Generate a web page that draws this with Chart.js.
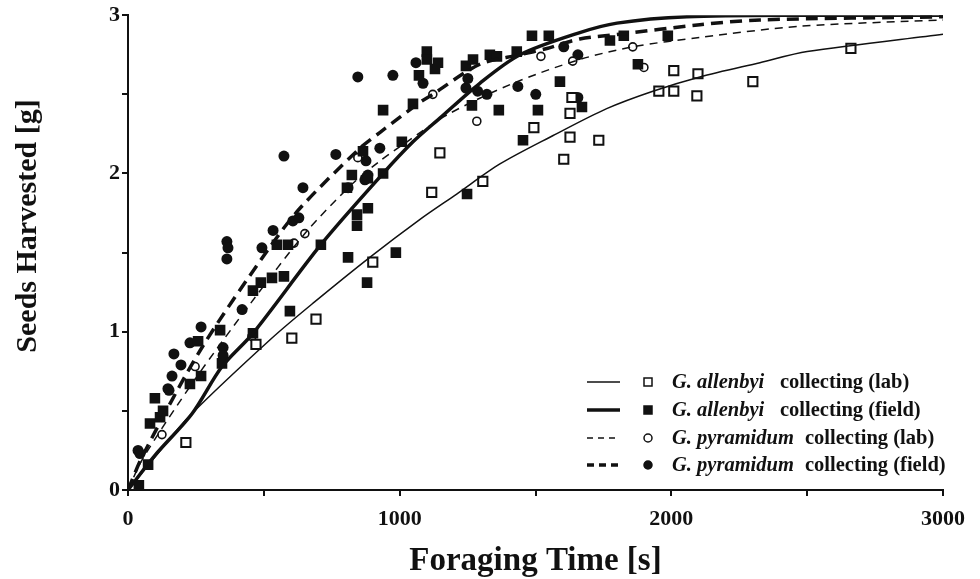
<!DOCTYPE html>
<html>
<head>
<meta charset="utf-8">
<script src="https://cdn.jsdelivr.net/npm/chart.js@4"></script>
<style>
  html, body { margin: 0; padding: 0; background: #fff; }
  #wrap { width: 980px; height: 579px; position: relative; }
</style>
</head>
<body>
<div id="wrap"><canvas id="c" width="980" height="579"></canvas></div>
<script>
/* Seeds harvested vs foraging time, two gerbil species, lab vs field.
   Points; fitted curves as polylines. */

const X_TICKS = [0, 1000, 2000, 3000];
const Y_TICKS = [0, 1, 2, 3];

// scatter: G. allenbyi (lab) - open squares
const allenbyiLabPts = [
  [213, 0.30], [471, 0.92], [603, 0.96], [692, 1.08], [901, 1.44], [1118, 1.88], [1148, 2.13],
  [1306, 1.95], [1494, 2.29], [1604, 2.09], [1627, 2.23], [1627, 2.38], [1634, 2.48], [1733, 2.21],
  [1954, 2.52], [2009, 2.52], [2009, 2.65], [2094, 2.49], [2098, 2.63], [2300, 2.58], [2661, 2.79]
];

// scatter: G. allenbyi (field) - filled squares
const allenbyiFieldPts = [
  [40, 0.03], [74, 0.16], [81, 0.42], [99, 0.58], [118, 0.46], [129, 0.50], [228, 0.67], [258, 0.94],
  [269, 0.72], [339, 1.01], [346, 0.80], [460, 0.99], [460, 1.26], [489, 1.31], [530, 1.34], [574, 1.35],
  [548, 1.55], [589, 1.55], [596, 1.13], [710, 1.55], [810, 1.47], [880, 1.31], [986, 1.50], [806, 1.91],
  [824, 1.99], [843, 1.67], [843, 1.74], [865, 2.14], [883, 1.78], [883, 1.97], [939, 2.00], [939, 2.40],
  [1008, 2.20], [1049, 2.44], [1071, 2.62], [1100, 2.77], [1100, 2.72], [1130, 2.66], [1141, 2.70], [1244, 2.68],
  [1248, 1.87], [1266, 2.43], [1270, 2.72], [1332, 2.75], [1358, 2.74], [1365, 2.40], [1431, 2.77], [1454, 2.21],
  [1487, 2.87], [1509, 2.40], [1549, 2.87], [1590, 2.58], [1671, 2.42], [1774, 2.84], [1825, 2.87], [1877, 2.69],
  [1987, 2.87]
];

// scatter: G. pyramidum (lab) - open circles
const pyramidumLabPts = [
  [125, 0.35], [247, 0.78], [456, 0.97], [611, 1.56], [651, 1.62], [846, 2.10], [1122, 2.50],
  [1284, 2.33], [1520, 2.74], [1637, 2.71], [1858, 2.80], [1899, 2.67]
];

// scatter: G. pyramidum (field) - filled circles
const pyramidumFieldPts = [
  [37, 0.25], [44, 0.23], [147, 0.64], [151, 0.63], [162, 0.72], [169, 0.86], [195, 0.79], [228, 0.93],
  [269, 1.03], [350, 0.90], [350, 0.85], [364, 1.57], [368, 1.53], [364, 1.46], [420, 1.14], [493, 1.53],
  [534, 1.64], [574, 2.11], [607, 1.70], [629, 1.72], [644, 1.91], [765, 2.12], [810, 1.91], [846, 2.61],
  [872, 1.96], [876, 2.08], [883, 1.99], [927, 2.16], [975, 2.62], [1060, 2.70], [1086, 2.57], [1244, 2.54],
  [1251, 2.60], [1287, 2.52], [1321, 2.50], [1435, 2.55], [1501, 2.50], [1604, 2.80], [1656, 2.75], [1656, 2.48]
];

// fitted curves
const allenbyiLabCurve = [
  [0, 0], [100, 0.21], [228, 0.47], [530, 0.96], [688, 1.19], [890, 1.47], [1075, 1.71], [1210, 1.87],
  [1369, 2.06], [1565, 2.24], [1762, 2.41], [1932, 2.52], [2105, 2.61], [2326, 2.70], [2500, 2.77], [3000, 2.88]
];
const allenbyiFieldCurve = [
  [0, 0], [100, 0.22], [235, 0.48], [346, 0.78], [460, 0.99], [710, 1.55], [939, 2.00], [1049, 2.20],
  [1148, 2.35], [1295, 2.57], [1443, 2.75], [1663, 2.89], [1800, 2.95], [2057, 2.99], [2500, 3.0], [3000, 3.0]
];
const pyramidumLabCurve = [
  [0, 0], [55, 0.2], [247, 0.70], [456, 1.19], [651, 1.62], [817, 1.92], [928, 2.08], [1027, 2.20],
  [1174, 2.37], [1418, 2.57], [1663, 2.72], [1858, 2.80], [2105, 2.86], [2473, 2.93], [3000, 2.97]
];
const pyramidumFieldCurve = [
  [0, 0], [55, 0.22], [265, 0.88], [512, 1.51], [633, 1.78], [854, 2.16], [928, 2.26], [1075, 2.45],
  [1122, 2.50], [1295, 2.69], [1443, 2.75], [1542, 2.79], [1663, 2.85], [1811, 2.88], [2105, 2.94],
  [2326, 2.97], [3000, 2.99]
];

const SERIF = "'Liberation Serif', 'Times New Roman', serif";
const INK = '#111';

const xy = (arr) => arr.map(([x, y]) => ({ x, y }));

function curve(label, data, width, dash) {
  return {
    type: 'line', label, data: xy(data), borderColor: INK, borderWidth: width, borderDash: dash,
    pointRadius: 0, tension: 0.3, fill: false, order: 1
  };
}

function dots(label, data, style, radius, filled, bw) {
  return {
    type: 'scatter', label, data: xy(data), pointStyle: style, pointRadius: radius,
    backgroundColor: filled ? INK : '#fff', borderColor: INK, borderWidth: bw, order: 2
  };
}

/* Legend with mixed italic/bold text, plus the y-axis title (which sits
   higher than the axis centre in the original), drawn onto the canvas. */
const legendPlugin = {
  id: 'speciesLegend',
  afterDraw(chart) {
    const { ctx, chartArea: a } = chart;
    const rows = [
      { sp: 'G. allenbyi', txt: 'collecting (lab)', w: 1.5, dash: [], mk: 'sq', fill: false, gap: 108 },
      { sp: 'G. allenbyi', txt: 'collecting (field)', w: 3.5, dash: [], mk: 'sq', fill: true, gap: 108 },
      { sp: 'G. pyramidum', txt: 'collecting (lab)', w: 1.5, dash: [6, 5], mk: 'ci', fill: false, gap: 133 },
      { sp: 'G. pyramidum', txt: 'collecting (field)', w: 3.5, dash: [7, 5], mk: 'ci', fill: true, gap: 133 }
    ];
    const ys = [382, 410, 438, 465];
    const x0 = a.left + 459;
    ctx.save();
    rows.forEach((r, i) => {
      const y = ys[i];
      ctx.strokeStyle = INK;
      ctx.lineWidth = r.w;
      ctx.setLineDash(r.dash);
      ctx.beginPath(); ctx.moveTo(x0, y); ctx.lineTo(x0 + 33, y); ctx.stroke();
      ctx.setLineDash([]);
      ctx.lineWidth = 1.5;
      ctx.fillStyle = r.fill ? INK : '#fff';
      ctx.beginPath();
      if (r.mk === 'sq') ctx.rect(x0 + 57, y - 4, 8, 8);
      else ctx.arc(x0 + 61, y, 4, 0, Math.PI * 2);
      ctx.fill(); ctx.stroke();
      ctx.fillStyle = INK;
      ctx.textBaseline = 'middle';
      ctx.font = `italic bold 20.5px ${SERIF}`;
      ctx.fillText(r.sp, x0 + 85, y + 1);
      ctx.font = `bold 20.5px ${SERIF}`;
      ctx.fillText(r.txt, x0 + 85 + r.gap, y + 1);
    });

    // y-axis title
    ctx.translate(28, 226);
    ctx.rotate(-Math.PI / 2);
    ctx.font = `bold 30px ${SERIF}`;
    ctx.textAlign = 'center';
    ctx.textBaseline = 'middle';
    ctx.fillText('Seeds Harvested [g]', 0, 0);
    ctx.restore();
  }
};

new Chart(document.getElementById('c'), {
  data: {
    datasets: [
      curve('G. allenbyi collecting (lab)', allenbyiLabCurve, 1.5, []),
      curve('G. allenbyi collecting (field)', allenbyiFieldCurve, 3.5, []),
      curve('G. pyramidum collecting (lab)', pyramidumLabCurve, 1.5, [8, 6]),
      curve('G. pyramidum collecting (field)', pyramidumFieldCurve, 3.5, [12, 7]),
      dots('G. allenbyi lab', allenbyiLabPts, 'rect', 6.5, false, 2),
      dots('G. allenbyi field', allenbyiFieldPts, 'rect', 7.5, true, 0),
      dots('G. pyramidum lab', pyramidumLabPts, 'circle', 4, false, 1.6),
      dots('G. pyramidum field', pyramidumFieldPts, 'circle', 5.5, true, 0)
    ]
  },
  plugins: [legendPlugin],
  options: {
    responsive: false, animation: false,
    layout: { padding: { top: 13, right: 37, left: 0, bottom: 0 } },
    plugins: { legend: { display: false }, tooltip: { enabled: false } },
    scales: {
      x: {
        type: 'linear', min: 0, max: 3000,
        afterFit: (s) => { s.height = 89; },
        afterBuildTicks: (s) => { s.ticks = [0, 500, 1000, 1500, 2000, 2500, 3000].map((v) => ({ value: v })); },
        border: { display: true, color: INK, width: 2 },
        grid: { drawOnChartArea: false, drawTicks: true, tickLength: 6, color: INK, lineWidth: 2 },
        ticks: {
          color: INK, padding: 10, maxRotation: 0, autoSkip: false,
          font: { family: SERIF, size: 22, weight: 'bold' },
          callback: (v) => (X_TICKS.includes(v) ? String(v) : '')
        },
        title: {
          display: true, text: 'Foraging Time [s]', color: INK,
          font: { family: SERIF, size: 33, weight: 'bold' }, padding: { top: 0, bottom: -2 }
        }
      },
      y: {
        type: 'linear', min: 0, max: 3,
        afterFit: (s) => { s.width = 128; },
        afterBuildTicks: (s) => { s.ticks = [0, 0.5, 1, 1.5, 2, 2.5, 3].map((v) => ({ value: v })); },
        border: { display: true, color: INK, width: 2 },
        grid: { drawOnChartArea: false, drawTicks: true, tickLength: 6, color: INK, lineWidth: 2 },
        ticks: {
          color: INK, padding: 2, autoSkip: false,
          font: { family: SERIF, size: 22, weight: 'bold' },
          callback: (v) => (Y_TICKS.includes(v) ? String(v) : '')
        },
        title: { display: false }
      }
    }
  }
});
</script>
</body>
</html>
